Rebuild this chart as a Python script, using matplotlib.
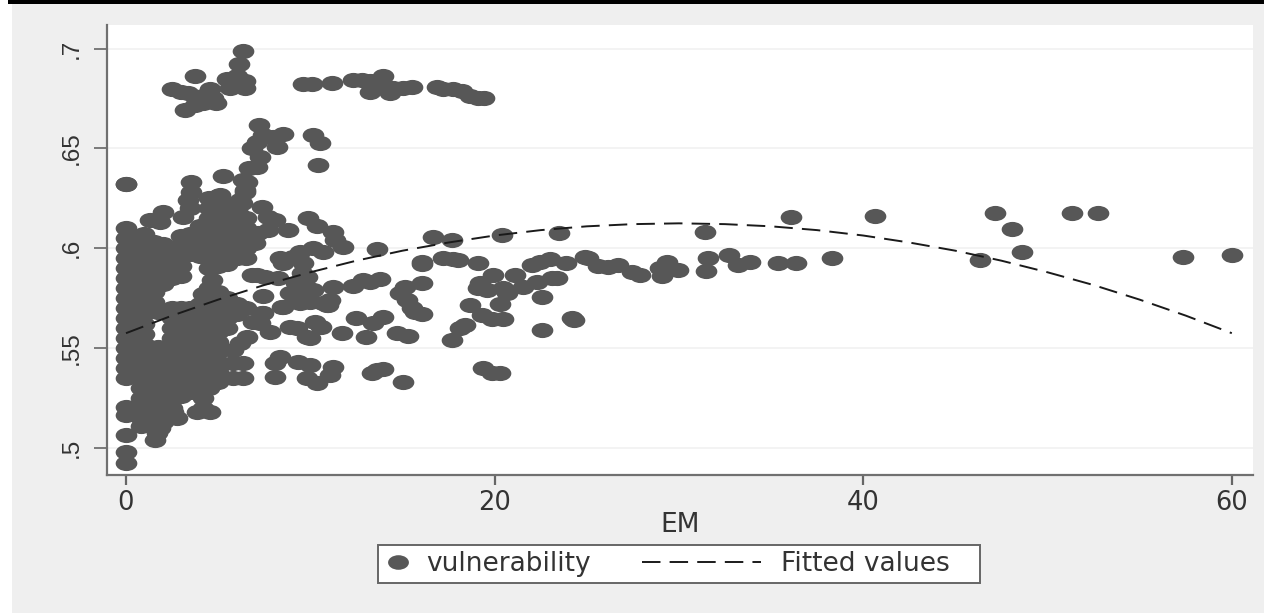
import matplotlib.pyplot as plt
from matplotlib.path import Path
from matplotlib.patches import Rectangle
from matplotlib.lines import Line2D
from matplotlib.transforms import Affine2D

# dense block, one list of vulnerability per EM column
column_em = [0.0, 0.5, 0.8, 1.0, 1.5, 1.75, 2.0, 2.25, 2.5, 3.0, 3.5, 4.0, 4.5, 5.0, 5.5, 6.0, 6.5]
column_vul = [
    [.610, .605, .600, .595, .590, .585, .580, .575, .570, .565, .560, .555, .550, .545, .540, .535,
     .5205, .5165, .5065, .498, .4925, .632, .632],
    [.606, .601, .596, .591, .586, .581, .576, .571, .566, .561, .556, .551, .546, .541, .536],
    [.530, .525, .520, .515, .511],
    [.607, .602, .597, .592, .587, .582, .577, .572, .567, .562, .557, .552, .547, .542, .537, .532, .527],
    [.603, .598, .593, .588, .583, .578, .573, .550, .545, .540, .535, .530, .525, .520, .515, .511],
    [.568, .5505],
    [.602, .597, .587, .582, .5480, .543, .538, .533, .528, .523, .518, .513],
    [.585, .568, .5505],
    [.600, .595, .590, .585, .570, .565, .560, .555, .550, .545, .540, .535, .530, .525, .520],
    [.606, .601, .596, .591, .586, .570, .565, .560, .555, .550, .545, .540, .535, .530, .526],
    [.607, .602, .597, .570, .565, .560, .555, .550, .545, .540, .535, .530],
    [.611, .606, .601, .596, .572, .567, .562, .557, .552, .547, .542, .537, .532],
    [.625, .620, .615, .610, .605, .600, .595, .590, .580, .575, .570, .565, .560, .555, .550, .545, .540, .535, .530],
    [.626, .621, .616, .611, .606, .601, .596, .591, .578, .573, .568, .563, .558, .553, .548, .543, .538, .533],
    [.622, .617, .612, .607, .602, .597, .592, .575, .570, .565, .560],
    [.620, .615, .610, .605, .600, .595, .572, .567],
    [.615, .610, .605, .600, .595, .570],
]

# points read one by one around the block
top_em = [6.35, 6.15, 3.75, 5.5, 6.45, 6.0, 5.65, 6.45, 2.5, 3.0, 3.35, 4.55, 4.2, 4.7, 4.9, 4.2, 3.75, 3.2,
          9.6, 10.1, 11.2, 12.3, 12.8, 13.25, 13.95, 13.6, 13.25, 14.3, 14.5, 15.5, 15.05,
          16.9, 17.2, 17.75, 18.25, 18.65, 19.1, 19.4]
top_vul = [.699, .6925, .6865, .685, .684, .6865, .6805, .6805, .68, .6785, .678, .68, .6765, .6755, .6725, .6725, .6715, .669,
           .6825, .6825, .683, .6845, .6845, .684, .6865, .6825, .6785, .678, .6805, .681, .6805,
           .681, .68, .68, .679, .6765, .6755, .6755]

spine_em = [7.2, 7.45, 8.5, 8.0, 7.1, 6.85, 8.2, 7.25, 7.1, 6.7, 6.55, 6.45, 6.2, 10.15, 10.5, 10.4, 5.25, 3.55, 3.55,
            3.35, 3.45, 3.1, 2.0, 1.3, 1.85, 5.1, 4.65, 4.85, 6.35, 6.45, 6.3, 6.1, 6.1, 7.4, 8.1, 8.8, 7.7, 7.7, 7.15, 7.0,
            9.9, 10.35, 11.25, 11.35, 11.8]
spine_vul = [.6615, .6565, .657, .6555, .653, .65, .6505, .6455, .6405, .64, .633, .628, .624, .6565, .6525, .6415, .636, .633, .628,
             .624, .62, .6155, .618, .614, .613, .6265, .6225, .6165, .634, .629, .6225, .6175, .6125, .6205, .614, .609, .6155, .609, .6075, .6025,
             .615, .611, .608, .604, .6005]

mid_em = [9.45, 10.15, 10.7, 9.05, 8.35, 8.5, 9.6, 6.85, 7.1, 7.55, 8.25, 9.2, 9.55, 9.8, 7.45, 8.45, 9.15, 7.4, 8.9, 10.15,
          11.25, 12.3, 12.85, 13.25, 13.8, 13.6, 4.65, 4.2, 9.6, 10.0, 10.7, 10.9, 11.05]
mid_vul = [.598, .60, .598, .5955, .595, .5925, .5925, .5865, .5865, .5855, .585, .5825, .5875, .5855, .576, .5705, .574, .5675, .5775, .579,
           .5805, .581, .584, .583, .5845, .5995, .584, .577, .5775, .573, .5725, .5715, .574]

low_em = [7.45, 8.5, 9.45, 10.95, 6.9, 7.8, 8.9, 9.8, 10.25, 10.6, 11.7, 12.5, 13.05, 13.4, 13.95, 14.7, 15.3, 10.0, 9.3, 6.55, 6.2, 5.8, 7.25,
          8.35, 8.1, 8.1, 6.35, 6.35, 5.8, 5.8, 9.35, 10.0, 11.25, 9.8, 10.35, 11.05, 13.6, 13.35, 13.95, 15.05, 19.35, 19.85, 20.3,
          1.3, 1.55, 1.7, 1.85, 2.75, 2.55, 2.2, 3.85, 4.55, 4.2, 4.2, 3.45]
low_vul = [.5675, .5705, .5725, .5715, .563, .558, .5605, .5555, .563, .5605, .5575, .565, .5555, .5625, .5655, .5575, .556, .555, .56, .5555, .5525, .549, .5625,
           .5455, .5425, .5355, .5425, .535, .5425, .535, .543, .5415, .5405, .535, .5325, .5365, .539, .5375, .5395, .533, .54, .5375, .5375,
           .5125, .504, .5075, .51, .515, .518, .5225, .518, .518, .52, .525, .528]

right_em = [16.65, 17.7, 20.4, 23.5, 16.05, 16.05, 17.2, 17.75, 18.0, 19.1, 19.9, 21.1, 19.2, 19.1, 19.6, 20.45, 20.65, 21.55, 22.3, 23.1, 23.4,
            22.05, 22.45, 23.0, 23.85, 24.9, 22.55, 20.3, 18.65, 18.4, 18.1, 17.7, 19.3, 19.85, 20.45, 24.2, 24.3, 22.55,
            15.15, 16.05, 14.85, 15.25, 15.5, 16.05, 15.7,
            25.05, 25.6, 26.15, 26.7, 27.45, 27.9, 29.0, 29.35, 29.1, 29.95, 29.4, 31.4, 31.6, 31.45, 32.7, 33.2, 33.85, 35.4, 36.35, 36.1, 38.3, 40.65,
            46.35, 47.15, 48.05, 48.6, 51.35, 52.75, 57.35, 60.0]
right_vul = [.6055, .604, .6065, .6075, .593, .592, .595, .5945, .594, .5925, .5865, .5865, .5825, .58, .579, .58, .5775, .5805, .583, .585, .585,
             .5915, .593, .5945, .5925, .5955, .5755, .572, .5715, .5615, .56, .554, .5665, .5645, .5645, .565, .564, .559,
             .5805, .5825, .5775, .574, .57, .567, .568,
             .595, .591, .5905, .5915, .588, .5865, .59, .593, .586, .589, .59, .608, .595, .5885, .5965, .5915, .593, .5925, .5925, .6155, .595, .616,
             .594, .6175, .6095, .598, .6175, .6175, .5955, .5965]

fit_em = [0, 2.5, 5, 7.5, 10, 12.5, 15, 17.5, 20, 22.5, 25, 27.5, 30, 32.5, 35, 37.5, 40, 42.5, 45, 47.5, 50, 52.5, 55, 57.5, 60]
fit_vul = [.5575, .5663, .5743, .5816, .588, .5938, .5988, .6029, .6064, .6091, .611, .6121, .6125,
           .6121, .611, .6091, .6064, .6029, .5988, .5938, .588, .5816, .5743, .5663, .5575]

x_ticks = [0, 20, 40, 60]
y_ticks = [.5, .55, .6, .65, .7]
y_labels = ['.5', '.55', '.6', '.65', '.7']

W, H = 1279, 613
DOT = '#575757'
DASH = (0, (9.5, 4.7))

# the picture is stretched sideways, so the dots are ellipses
dot = Path.unit_circle().transformed(Affine2D().scale(1, 0.7))

plt.rcParams['font.family'] = ['DejaVu Sans']

fig = plt.figure(figsize=(W / 100, H / 100), dpi=100, facecolor='white')

# gray page and the black strip on top
fig.add_artist(Rectangle((12 / W, 0), 1252 / W, 1, transform=fig.transFigure, color='#efefef', lw=0, zorder=-5))
fig.add_artist(Rectangle((8 / W, 1 - 3.5 / H), 1256 / W, 3.5 / H, transform=fig.transFigure, color='black', lw=0, zorder=-4))

ax = fig.add_axes([107 / W, 1 - 475 / H, (1253 - 107) / W, (475 - 25) / H])
ax.set_xlim(-1.03, 61.15)
ax.set_ylim(.4865, .7118)
ax.set_facecolor('white')

em = []
vul = []
for x, ys in zip(column_em, column_vul):
    em += [x] * len(ys)
    vul += ys
em += top_em + spine_em + mid_em + low_em + right_em
vul += top_vul + spine_vul + mid_vul + low_vul + right_vul

ax.plot(em, vul, ls='none', marker=dot, ms=15.6, mfc=DOT, mec='none', zorder=3)
ax.plot(fit_em, fit_vul, color='#1a1a1a', lw=1.4, ls=DASH, zorder=4)

ax.set_xticks(x_ticks)
ax.set_yticks(y_ticks)
ax.set_yticklabels(y_labels, rotation=90, va='center', fontsize=17.5, family='Liberation Sans', color='#333333')
ax.tick_params(axis='y', length=9.5, width=1.2, color='#666666', pad=8)
ax.tick_params(axis='x', length=7, width=1.6, color='#666666', pad=4, labelsize=18.5, labelcolor='#333333')
ax.grid(axis='y', color='#f1f1f1', lw=1.2, zorder=0)
ax.set_axisbelow(True)

for side in ['top', 'right']:
    ax.spines[side].set_visible(False)
for side in ['left', 'bottom']:
    ax.spines[side].set_color('#707070')
    ax.spines[side].set_linewidth(1.6)

ax.set_xlabel('EM', fontsize=19, color='#333333', labelpad=-3)

# legend box, the two entries have different handle widths
fig.add_artist(Rectangle((378 / W, 1 - 583 / H), 602 / W, 38 / H, transform=fig.transFigure,
                         facecolor='white', edgecolor='#666666', lw=1.4))
h1 = Line2D([], [], ls='none', marker=dot, ms=15, mfc=DOT, mec='none')
h2 = Line2D([], [], color='#1a1a1a', lw=1.4, ls=DASH)
fig.legend([h1], ['vulnerability'], loc='center left', bbox_to_anchor=(385 / W, 1 - 564 / H), frameon=False,
           fontsize=19, labelcolor='#333333', borderpad=0, borderaxespad=0, handlelength=1, handletextpad=.55)
fig.legend([h2], ['Fitted values'], loc='center left', bbox_to_anchor=(642 / W, 1 - 564 / H), frameon=False,
           fontsize=19, labelcolor='#333333', borderpad=0, borderaxespad=0, handlelength=4.5, handletextpad=.75)

fig.savefig('out.png', dpi=100, facecolor=fig.get_facecolor())
